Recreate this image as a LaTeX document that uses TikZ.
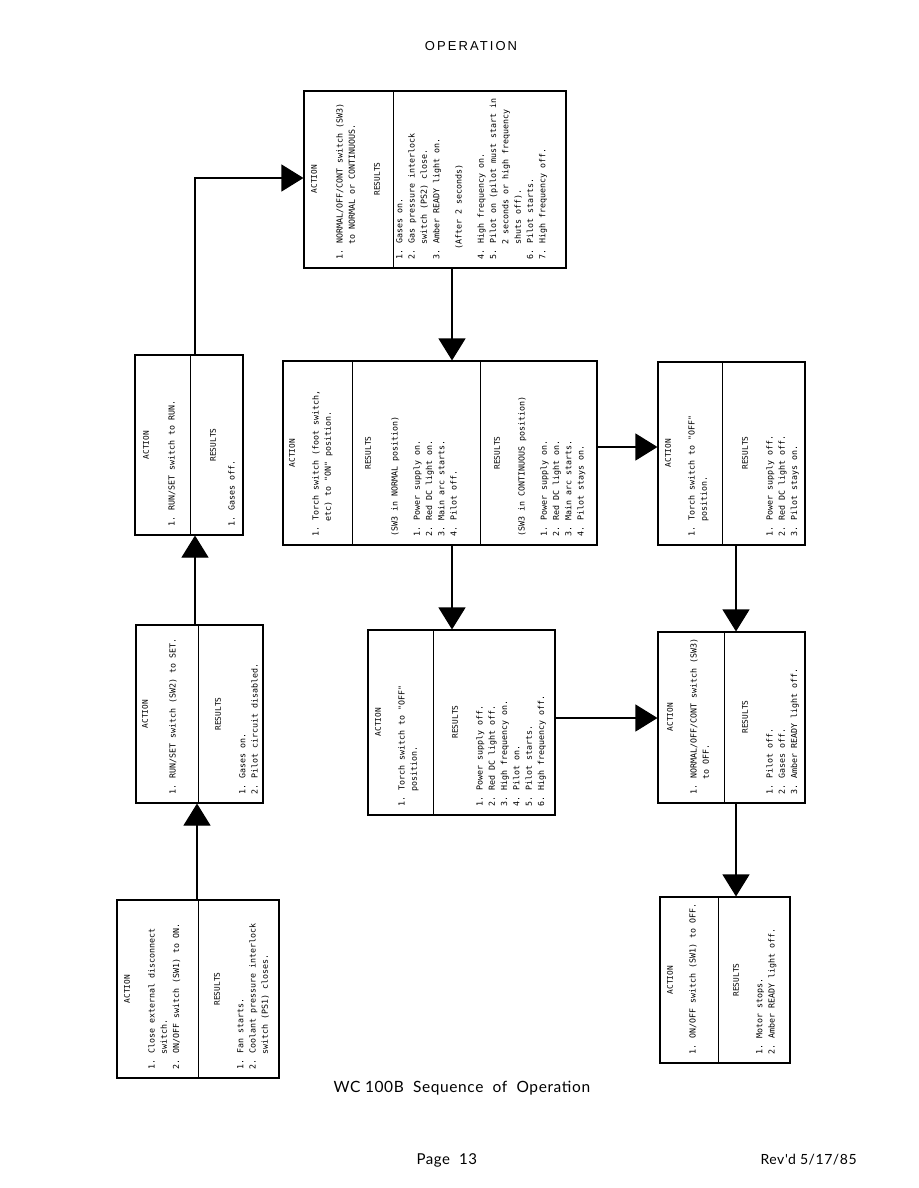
\documentclass[tikz,border=0pt]{standalone}
\usepackage{fontspec}
\setmainfont{Liberation Sans}
\newfontfamily\boxmono{DejaVu Sans Mono}
\newfontfamily\titlefont[LetterSpace=16]{Liberation Sans}
\newfontfamily\capfont[LetterSpace=4]{Lato}
\usetikzlibrary{arrows.meta,calc}
\newcommand\myind{\hspace*{1.806em}}
\begin{document}
\begin{tikzpicture}[x=1pt,y=-1pt,
  box/.style={draw, line width=1.1pt, rectangle, inner sep=0pt},
  hd/.style={rotate=90, font=\boxmono\fontsize{7.8}{12}\selectfont, inner sep=0pt},
  lst/.style={rotate=90, anchor=north west, align=left, font=\boxmono\fontsize{8.3}{12.3}\selectfont, inner sep=0pt},
  divl/.style={line width=1pt},
  flow/.style={line width=1.1pt, -{Triangle[length=22pt,width=27pt]}}]
\fill[white] (0,0) rectangle (918,1188);
\useasboundingbox (0,0) rectangle (918,1188);

% header / footer
\node[font=\titlefont\fontsize{13}{15}\selectfont] (title) at (471,46) {OPERATION};
\node[font=\capfont\fontsize{15.5}{18}\selectfont, anchor=west] (caption) at (330,1088) {WC 100B\ \ Sequence\ \ of\ \ Operation};
\node[font=\capfont\fontsize{15}{18}\selectfont, anchor=west] (page) at (413,1160) {Page\ \ 13};
\node[font=\capfont\fontsize{14}{18}\selectfont, anchor=west] (rev) at (757,1160) {Rev'd\ 5/17/85};

% boxes
\node[box, minimum width=262pt, minimum height=177pt] (A) at (435,179.5) {};
\node[box, minimum width=108pt, minimum height=180pt] (B) at (189,445) {};
\node[box, minimum width=127pt, minimum height=178pt] (C) at (199.5,714) {};
\node[box, minimum width=162pt, minimum height=178pt] (D) at (198,989) {};
\node[box, minimum width=314pt, minimum height=184pt] (E) at (440,453) {};
\node[box, minimum width=187pt, minimum height=185pt] (F) at (461.5,722.5) {};
\node[box, minimum width=147pt, minimum height=183pt] (G) at (731.5,453.5) {};
\node[box, minimum width=147pt, minimum height=171pt] (H) at (731.5,717.5) {};
\node[box, minimum width=130pt, minimum height=166pt] (I) at (725,980) {};

% dividers
\draw[divl] (A.north -| 393,0) -- (A.south -| 393,0);
\draw[divl] (B.north -| 190,0) -- (B.south -| 190,0);
\draw[divl] (C.north -| 198,0) -- (C.south -| 198,0);
\draw[divl] (D.north -| 198,0) -- (D.south -| 198,0);
\draw[divl] (E.north -| 352,0) -- (E.south -| 352,0);
\draw[divl] (E.north -| 480,0) -- (E.south -| 480,0);
\draw[divl] (F.north -| 433,0) -- (F.south -| 433,0);
\draw[divl] (G.north -| 722,0) -- (G.south -| 722,0);
\draw[divl] (H.north -| 724,0) -- (H.south -| 724,0);
\draw[divl] (I.north -| 718,0) -- (I.south -| 718,0);

% box A
\node[hd] (A-h1) at (314,179) {ACTION};
\node[lst] (A-a) at (336,260) {1. NORMAL/OFF/CONT switch (SW3)\\\myind to NORMAL or CONTINUOUS.};
\node[hd] (A-h2) at (377,179) {RESULTS};
\node[lst] (A-r) at (396,260) {1. Gases on.\\2. Gas pressure interlock\\\myind switch (PS2) close.\\3. Amber READY light on.\\[10pt]\hspace*{1.2em}(After 2 seconds)\\[10pt]4. High frequency on.\\5. Pilot on (pilot must start in\\\myind 2 seconds or high frequency\\\myind shuts off).\\6. Pilot starts.\\7. High frequency off.};

% box B
\node[hd] (B-h1) at (146,445) {ACTION};
\node[lst] (B-a) at (168,527) {1. RUN/SET switch to RUN.};
\node[hd] (B-h2) at (213,445) {RESULTS};
\node[lst] (B-r) at (228,527) {1. Gases off.};

% box C
\node[hd] (C-h1) at (145,714) {ACTION};
\node[lst] (C-a) at (169,795) {1. RUN/SET switch (SW2) to SET.};
\node[hd] (C-h2) at (218,714) {RESULTS};
\node[lst] (C-r) at (239,795) {1. Gases on.\\2. Pilot circuit disabled.};

% box D
\node[hd] (D-h1) at (127,989) {ACTION};
\node[lst] (D-a) at (148,1070) {1. Close external disconnect\\\myind switch.\\2. ON/OFF switch (SW1) to ON.};
\node[hd] (D-h2) at (217,989) {RESULTS};
\node[lst] (D-r) at (237,1070) {1. Fan starts.\\2. Coolant pressure interlock\\\myind switch (PS1) closes.};

% box E
\node[hd] (E-h1) at (292,453) {ACTION};
\node[lst] (E-a) at (312,537) {1. Torch switch (foot switch,\\\myind etc) to "ON" position.};
\node[hd] (E-h2) at (368,453) {RESULTS};
\node[lst] (E-r1) at (391,537) {(SW3 in NORMAL position)\\[10pt]1. Power supply on.\\2. Red DC light on.\\3. Main arc starts.\\4. Pilot off.};
\node[hd] (E-h3) at (497,453) {RESULTS};
\node[lst] (E-r2) at (518,537) {(SW3 in CONTINUOUS position)\\[10pt]1. Power supply on.\\2. Red DC light on.\\3. Main arc starts.\\4. Pilot stays on.};

% box F
\node[hd] (F-h1) at (378,722) {ACTION};
\node[lst] (F-a) at (398,807) {1. Torch switch to "OFF"\\\myind position.};
\node[hd] (F-h2) at (455,722) {RESULTS};
\node[lst] (F-r) at (476,807) {1. Power supply off.\\2. Red DC light off.\\3. High frequency on.\\4. Pilot on.\\5. Pilot starts.\\6. High frequency off.};

% box G
\node[hd] (G-h1) at (668,453) {ACTION};
\node[lst] (G-a) at (688,537) {1. Torch switch to "OFF"\\\myind position.};
\node[hd] (G-h2) at (745,453) {RESULTS};
\node[lst] (G-r) at (766,537) {1. Power supply off.\\2. Red DC light off.\\3. Pilot stays on.};

% box H
\node[hd] (H-h1) at (670,717) {ACTION};
\node[lst] (H-a) at (690,795) {1. NORMAL/OFF/CONT switch (SW3)\\\myind to OFF.};
\node[hd] (H-h2) at (745,717) {RESULTS};
\node[lst] (H-r) at (766,795) {1. Pilot off.\\2. Gases off.\\3. Amber READY light off.};

% box I
\node[hd] (I-h1) at (670,980) {ACTION};
\node[lst] (I-a) at (689,1055) {1. ON/OFF switch (SW1) to OFF.};
\node[hd] (I-h2) at (736,980) {RESULTS};
\node[lst] (I-r) at (756,1055) {1. Motor stops.\\2. Amber READY light off.};

% connectors
\coordinate (bend) at (195,178);
\draw[flow] (D.north -| 197,0) -- (C.south -| 197,0);
\draw[flow] (C.north -| 195,0) -- (B.south -| 195,0);
\draw[flow] (B.north -| bend) -- (bend) -- (bend -| A.west);
\draw[flow] (A.south -| 452,0) -- (E.north -| 452,0);
\draw[flow] (E.south -| 452,0) -- (F.north -| 452,0);
\draw[flow] (E.east |- 0,447) -- (G.west |- 0,447);
\draw[flow] (F.east |- 0,718) -- (H.west |- 0,718);
\draw[flow] (G.south -| 736,0) -- (H.north -| 736,0);
\draw[flow] (H.south -| 736,0) -- (I.north -| 736,0);
\end{tikzpicture}
\end{document}
